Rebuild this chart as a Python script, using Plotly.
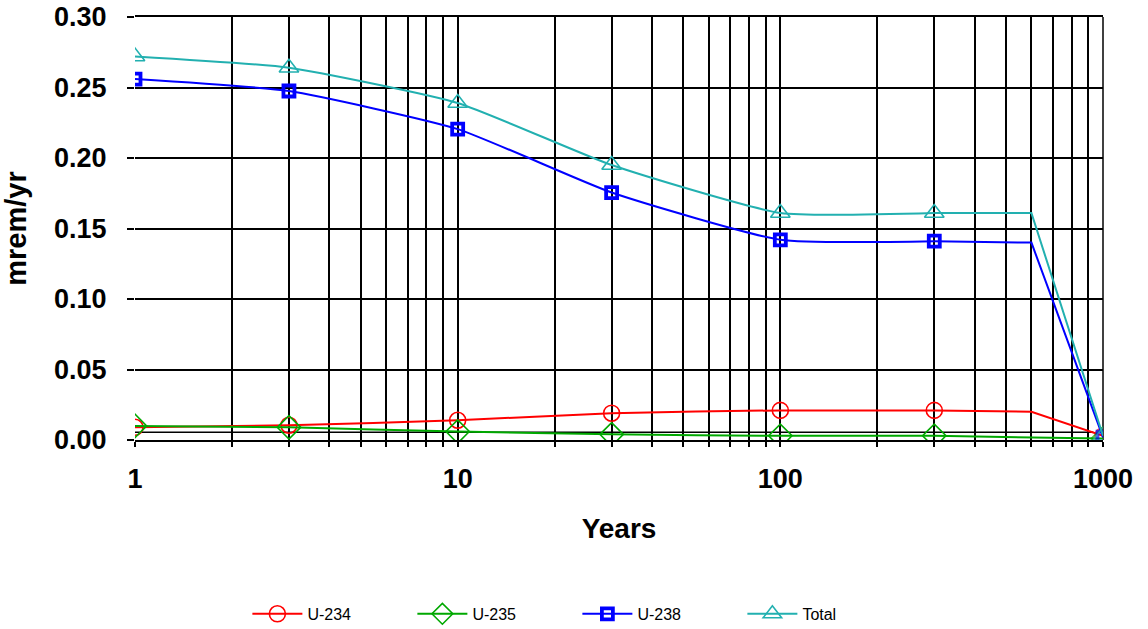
import plotly.graph_objects as go

years = [1, 3, 10, 30, 100, 300, 600, 1000]
u234 = [0.009, 0.0105, 0.014, 0.019, 0.021, 0.021, 0.020, 0.003]
u235 = [0.010, 0.009, 0.006, 0.004, 0.003, 0.003, 0.002, 0.001]
u238 = [0.256, 0.2475, 0.2205, 0.1755, 0.142, 0.141, 0.140, 0.002]
total = [0.272, 0.264, 0.239, 0.195, 0.161, 0.161, 0.161, 0.003]

series = [
    ("U-234", u234, "#FF0000", "circle-open", 16, 1.6),
    ("U-235", u235, "#00A800", "diamond-open", 18, 1.6),
    ("U-238", u238, "#0000FF", "square-open", 11, 3.8),
    ("Total", total, "#22B0B0", "triangle-up-open", 17, 1.6),
]

fig = go.Figure()
for name, vals, color, sym, ms, mlw in series:
    # smooth part with markers (1 .. 300 years)
    fig.add_trace(go.Scatter(
        x=years[:6], y=vals[:6], name=name, mode="lines+markers",
        line=dict(color=color, width=2, shape="spline", smoothing=0.5),
        marker=dict(symbol=sym, size=ms, color=color, line=dict(width=mlw, color=color)),
        legendgroup=name,
    ))
    # plateau and drop (300 .. 1000 years)
    fig.add_trace(go.Scatter(
        x=years[5:], y=vals[5:], name=name, mode="lines+markers",
        line=dict(color=color, width=2),
        marker=dict(symbol=sym, size=[0, 0, ms], color=color, line=dict(width=mlw, color=color)),
        legendgroup=name, showlegend=False,
    ))

minor_vals = [m * d for d in (1, 10, 100) for m in range(2, 10)]

fig.update_layout(
    width=1148, height=629,
    margin=dict(l=135, r=45, t=17, b=189),
    paper_bgcolor="white", plot_bgcolor="white",
    font=dict(family="Liberation Sans, Arial, sans-serif", color="black"),
    showlegend=True,
    legend=dict(orientation="h", x=0.457, xanchor="center",
                yref="container", y=0.024, yanchor="middle",
                font=dict(size=16, family="Liberation Sans, Arial, sans-serif"),
                itemwidth=50, entrywidth=100, tracegroupgap=0),
    xaxis=dict(
        type="log", range=[0, 3], automargin=False,
        tickvals=[1, 10, 100, 1000], ticktext=["<b>1</b>", "<b>10</b>", "<b>100</b>", "<b>1000</b>"],
        tickfont=dict(size=27), ticks="outside", ticklen=5, tickcolor="black", tickwidth=1.5,
        ticklabelstandoff=9, ticklabeloverflow="allow",
        showgrid=True, gridcolor="black", gridwidth=1.5,
        minor=dict(tickvals=minor_vals, showgrid=True, gridcolor="black", gridwidth=1.5,
                   ticks="outside", ticklen=5, tickcolor="black"),
        showline=True, linecolor="black", linewidth=1.5, mirror=True,
        zeroline=False,
        title=dict(text="<b>Years</b>", font=dict(size=28), standoff=25),
    ),
    yaxis=dict(
        range=[0, 0.30], automargin=False,
        tickvals=[0, 0.05, 0.10, 0.15, 0.20, 0.25, 0.30],
        ticktext=["<b>0.00</b>", "<b>0.05</b>", "<b>0.10</b>", "<b>0.15</b>", "<b>0.20</b>", "<b>0.25</b>", "<b>0.30</b>"],
        tickfont=dict(size=27), ticks="outside", ticklen=7, tickcolor="black", tickwidth=1.5,
        ticklabelstandoff=15, ticklabeloverflow="allow",
        showgrid=True, gridcolor="black", gridwidth=1.5,
        showline=False, zeroline=False,
        title=dict(text="<b>mrem/yr</b>", font=dict(size=29), standoff=23),
    ),
    shapes=[
        dict(type="line", xref="paper", yref="y", x0=0, x1=0.99, y0=0.0055, y1=0.0055,
             line=dict(color="black", width=1.5), layer="below"),
        dict(type="line", xref="paper", yref="paper", x0=1, x1=1, y0=0, y1=1,
             line=dict(color="black", width=1.5), layer="below"),
    ],
)

fig.write_html("out.html", config={"displayModeBar": False},
               post_script="document.body.style.margin='0';")
